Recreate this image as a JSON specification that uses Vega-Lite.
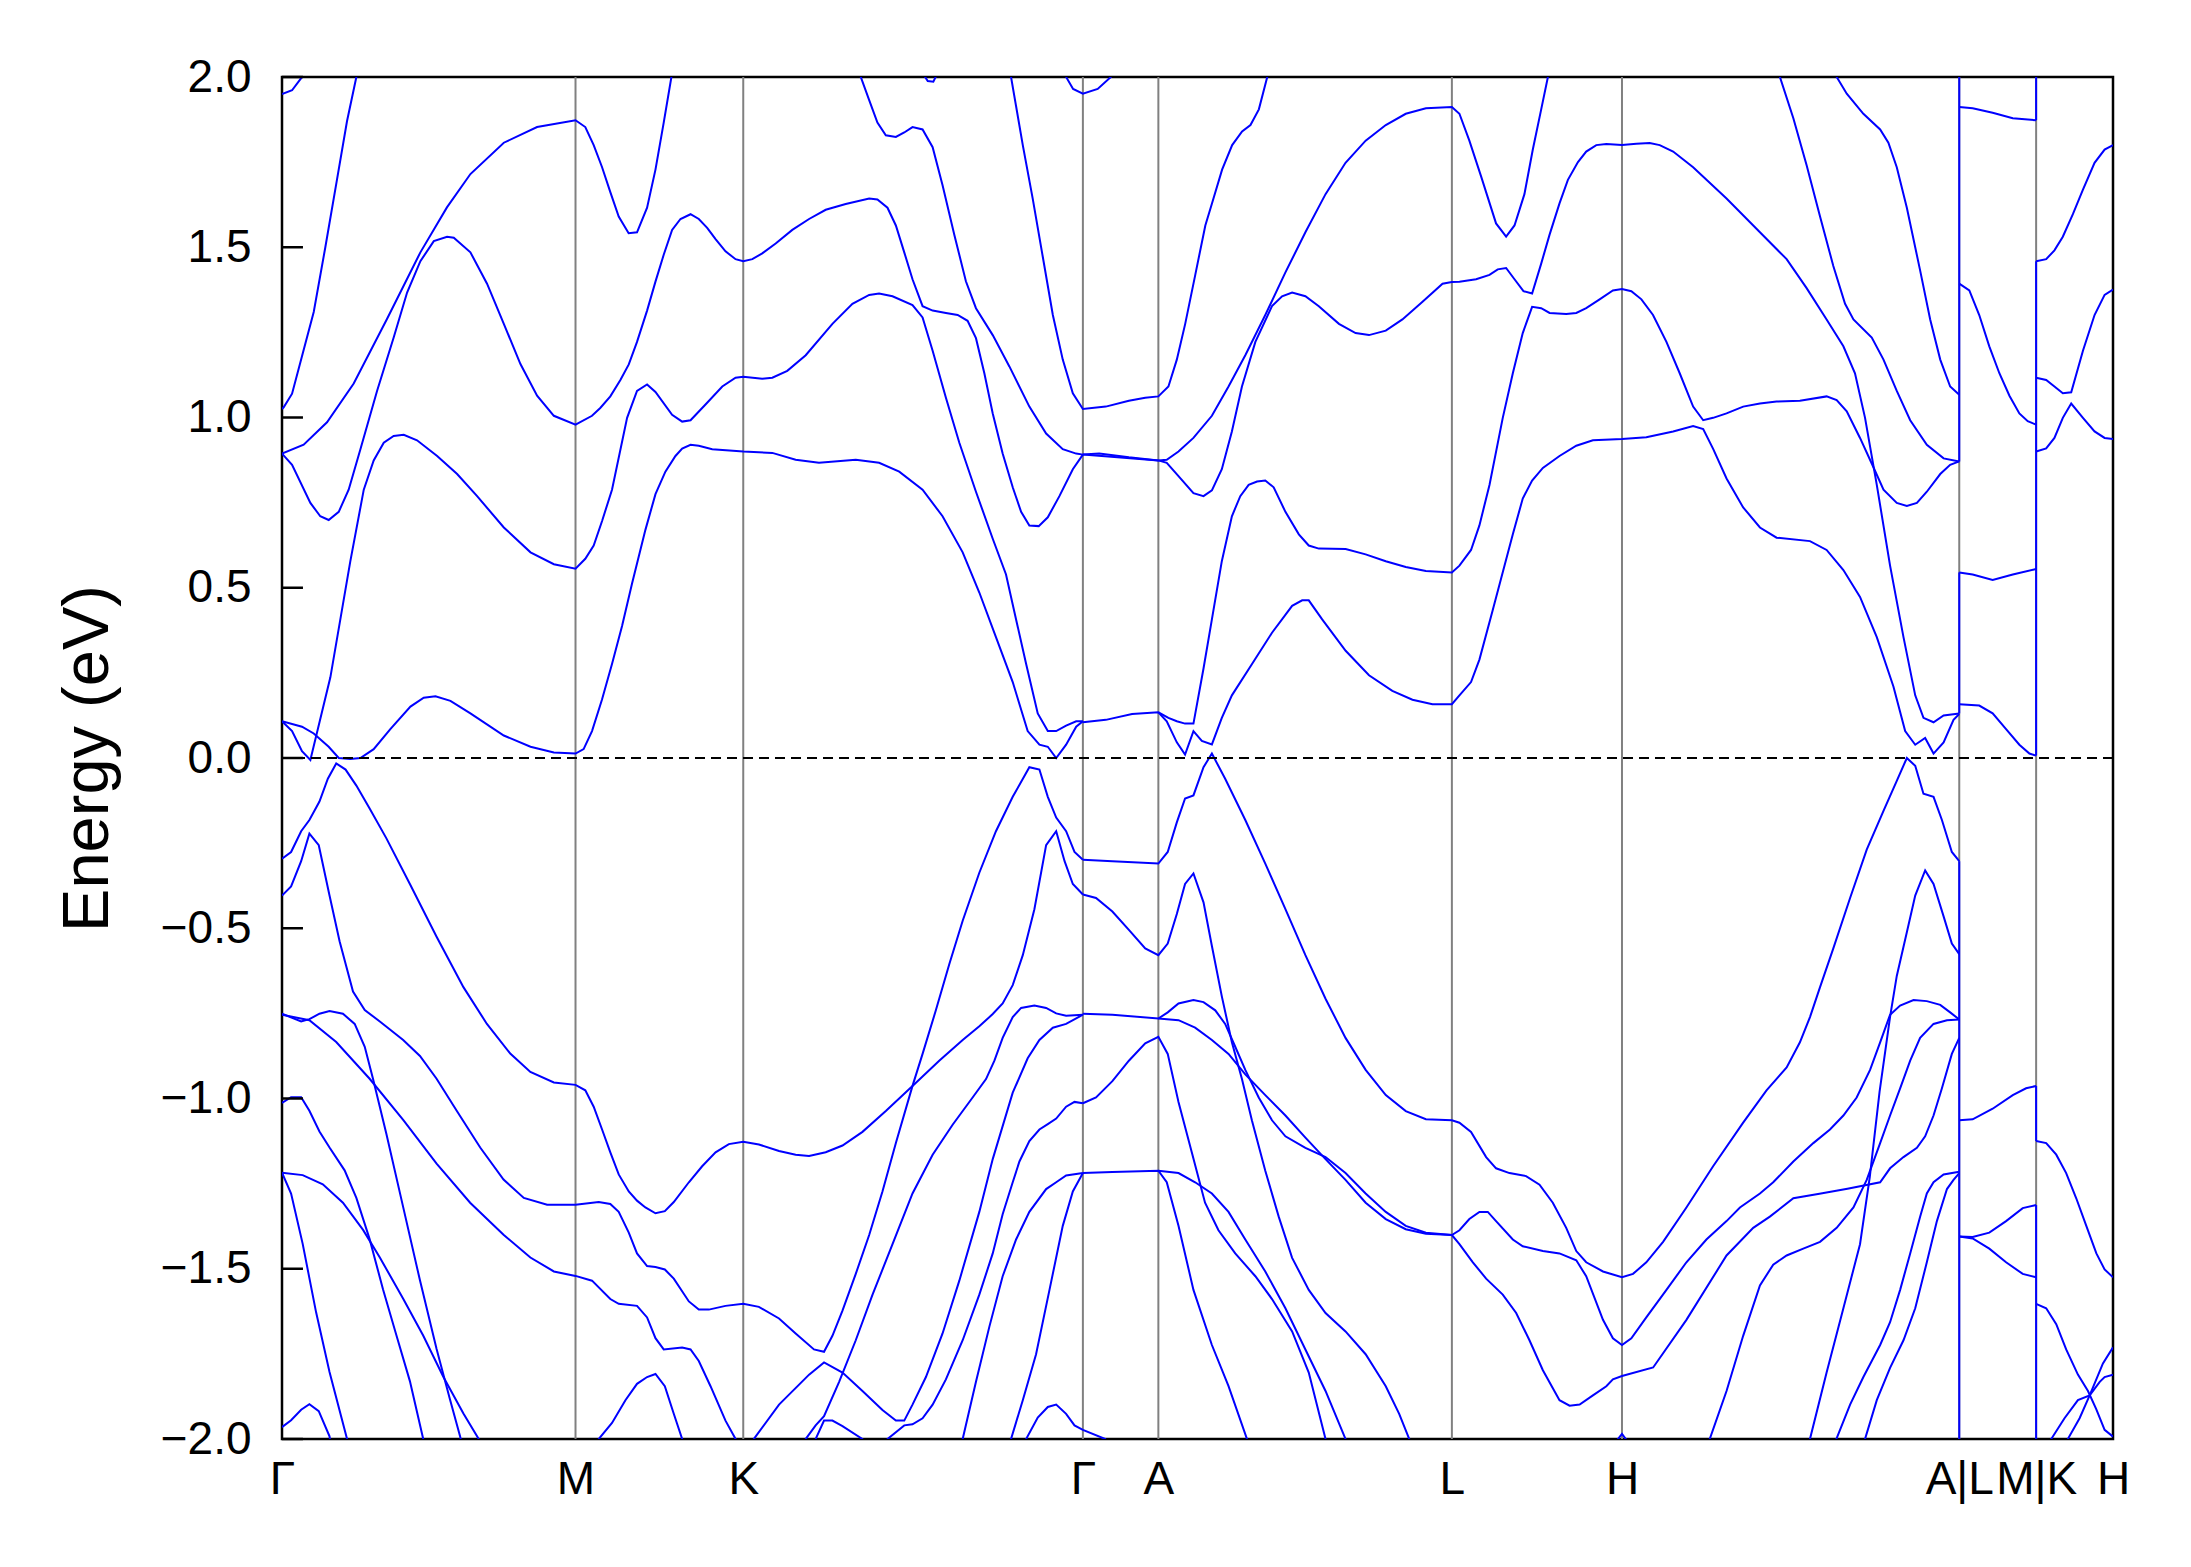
{
"$schema":"https://vega.github.io/schema/vega-lite/v6.json",
"width":1831,"height":1362,
"autosize":{"type":"none"},
"padding":{"left":282,"top":77,"right":78,"bottom":128},
"background":"white",
"config":{"view":{"stroke":"black","strokeWidth":2.5},"font":"Liberation Sans"},
"datasets":{
"sym":[{"k":210},{"k":330},{"k":573},{"k":627},{"k":837},{"k":958.7},{"k":1200},{"k":1255}],
"zero":[{"z":0}],
"yticks":[{"t":-2},{"t":-1.5},{"t":-1},{"t":-0.5},{"t":0},{"t":0.5},{"t":1},{"t":1.5},{"t":2}],
"jumps":[{"k":1200,"e1":2.0,"e2":0.871},{"k":1200,"e1":0.545,"e2":0.131},{"k":1200,"e1":-0.303,"e2":-2.0},{"k":1255,"e1":2.0,"e2":1.873},{"k":1255,"e1":1.459,"e2":0.007},{"k":1255,"e1":-0.963,"e2":-1.125},{"k":1255,"e1":-1.313,"e2":-2.0}],
"bands":[
{"b":"a","k":0,"e":1.95},{"b":"a","k":7.2,"e":1.961},{"b":"a","k":14.3,"e":2.0},{"b":"a","k":15,"e":2.02},
{"b":"b","k":0,"e":1.025},{"b":"b","k":1.2,"e":1.03},{"b":"b","k":7.2,"e":1.07},{"b":"b","k":14.3,"e":1.18},{"b":"b","k":22.7,"e":1.31},{"b":"b","k":31,"e":1.5},{"b":"b","k":39.4,"e":1.7},{"b":"b","k":46.5,"e":1.87},{"b":"b","k":53.2,"e":2.0},{"b":"b","k":54,"e":2.02},
{"b":"c","k":0,"e":0.894},{"b":"c","k":15.5,"e":0.92},{"b":"c","k":32.2,"e":0.986},{"b":"c","k":51.3,"e":1.1},{"b":"c","k":75.2,"e":1.29},{"b":"c","k":99,"e":1.485},{"b":"c","k":118,"e":1.617},{"b":"c","k":134.8,"e":1.715},{"b":"c","k":158.7,"e":1.807},{"b":"c","k":182.5,"e":1.853},{"b":"c","k":210,"e":1.873},{"b":"c","k":217,"e":1.853},{"b":"c","k":223,"e":1.8},{"b":"c","k":229,"e":1.735},{"b":"c","k":234.9,"e":1.662},{"b":"c","k":240.9,"e":1.59},{"b":"c","k":248,"e":1.541},{"b":"c","k":254,"e":1.544},{"b":"c","k":261.2,"e":1.616},{"b":"c","k":267.2,"e":1.728},{"b":"c","k":273.1,"e":1.866},{"b":"c","k":278.6,"e":2.0},{"b":"c","k":279.5,"e":2.02},
{"b":"d","k":0,"e":0.894},{"b":"d","k":7.2,"e":0.861},{"b":"d","k":20.3,"e":0.749},{"b":"d","k":27.4,"e":0.71},{"b":"d","k":33.4,"e":0.699},{"b":"d","k":40.6,"e":0.723},{"b":"d","k":47.7,"e":0.788},{"b":"d","k":56.1,"e":0.907},{"b":"d","k":68,"e":1.078},{"b":"d","k":79.9,"e":1.235},{"b":"d","k":89.5,"e":1.367},{"b":"d","k":99,"e":1.459},{"b":"d","k":108.6,"e":1.518},{"b":"d","k":118.1,"e":1.531},{"b":"d","k":122.9,"e":1.528},{"b":"d","k":134.8,"e":1.485},{"b":"d","k":146.7,"e":1.393},{"b":"d","k":158.7,"e":1.275},{"b":"d","k":170.6,"e":1.157},{"b":"d","k":182.5,"e":1.064},{"b":"d","k":194.5,"e":1.005},{"b":"d","k":210,"e":0.979},{"b":"d","k":221.8,"e":1.005},{"b":"d","k":227.7,"e":1.028},{"b":"d","k":234.9,"e":1.062},{"b":"d","k":242.1,"e":1.11},{"b":"d","k":248.1,"e":1.156},{"b":"d","k":254,"e":1.222},{"b":"d","k":261.2,"e":1.314},{"b":"d","k":267.2,"e":1.399},{"b":"d","k":273.1,"e":1.478},{"b":"d","k":279.1,"e":1.551},{"b":"d","k":285.1,"e":1.583},{"b":"d","k":292.3,"e":1.597},{"b":"d","k":298.2,"e":1.583},{"b":"d","k":304.2,"e":1.557},{"b":"d","k":310.2,"e":1.524},{"b":"d","k":317.3,"e":1.488},{"b":"d","k":324.5,"e":1.465},{"b":"d","k":330,"e":1.459},{"b":"d","k":336.5,"e":1.465},{"b":"d","k":343.6,"e":1.482},{"b":"d","k":353.2,"e":1.511},{"b":"d","k":365.1,"e":1.551},{"b":"d","k":377.1,"e":1.583},{"b":"d","k":389,"e":1.61},{"b":"d","k":403.3,"e":1.627},{"b":"d","k":420.1,"e":1.643},{"b":"d","k":426,"e":1.64},{"b":"d","k":433.2,"e":1.616},{"b":"d","k":439.2,"e":1.564},{"b":"d","k":445.2,"e":1.485},{"b":"d","k":451.1,"e":1.406},{"b":"d","k":458.3,"e":1.327},{"b":"d","k":465.5,"e":1.314},{"b":"d","k":475,"e":1.307},{"b":"d","k":483.4,"e":1.301},{"b":"d","k":490.5,"e":1.284},{"b":"d","k":496.5,"e":1.233},{"b":"d","k":502.5,"e":1.13},{"b":"d","k":508.5,"e":1.012},{"b":"d","k":515.6,"e":0.894},{"b":"d","k":522.8,"e":0.795},{"b":"d","k":528.8,"e":0.723},{"b":"d","k":534.7,"e":0.683},{"b":"d","k":541.4,"e":0.681},{"b":"d","k":547.9,"e":0.707},{"b":"d","k":556.2,"e":0.769},{"b":"d","k":565.8,"e":0.848},{"b":"d","k":573,"e":0.891},
{"b":"A","k":0,"e":0.108},{"b":"A","k":7.2,"e":0.079},{"b":"A","k":14.3,"e":0.02},{"b":"A","k":20.3,"e":-0.006},{"b":"A","k":34.6,"e":0.237},{"b":"A","k":48.9,"e":0.578},{"b":"A","k":58.5,"e":0.788},{"b":"A","k":65.6,"e":0.874},{"b":"A","k":72.8,"e":0.926},{"b":"A","k":79.9,"e":0.946},{"b":"A","k":87.1,"e":0.949},{"b":"A","k":96.6,"e":0.933},{"b":"A","k":111,"e":0.887},{"b":"A","k":125.3,"e":0.834},{"b":"A","k":139.6,"e":0.769},{"b":"A","k":158.7,"e":0.677},{"b":"A","k":177.8,"e":0.604},{"b":"A","k":194.5,"e":0.569},{"b":"A","k":210,"e":0.556},{"b":"A","k":217,"e":0.585},{"b":"A","k":223,"e":0.624},{"b":"A","k":229,"e":0.696},{"b":"A","k":236.1,"e":0.788},{"b":"A","k":246.9,"e":0.999},{"b":"A","k":254,"e":1.078},{"b":"A","k":261.2,"e":1.097},{"b":"A","k":267.2,"e":1.075},{"b":"A","k":279.1,"e":1.008},{"b":"A","k":286.3,"e":0.988},{"b":"A","k":292.3,"e":0.992},{"b":"A","k":303,"e":1.038},{"b":"A","k":315,"e":1.091},{"b":"A","k":324.5,"e":1.117},{"b":"A","k":330,"e":1.12},{"b":"A","k":343.6,"e":1.114},{"b":"A","k":350.8,"e":1.117},{"b":"A","k":361.5,"e":1.137},{"b":"A","k":374.7,"e":1.183},{"b":"A","k":393.8,"e":1.275},{"b":"A","k":408.1,"e":1.334},{"b":"A","k":420.1,"e":1.36},{"b":"A","k":427.2,"e":1.364},{"b":"A","k":436.8,"e":1.356},{"b":"A","k":451.1,"e":1.33},{"b":"A","k":458.3,"e":1.294},{"b":"A","k":465.5,"e":1.196},{"b":"A","k":475,"e":1.058},{"b":"A","k":484.6,"e":0.926},{"b":"A","k":496.5,"e":0.782},{"b":"A","k":508.5,"e":0.644},{"b":"A","k":518,"e":0.539},{"b":"A","k":525.2,"e":0.407},{"b":"A","k":532.4,"e":0.276},{"b":"A","k":540.7,"e":0.131},{"b":"A","k":547.9,"e":0.079},{"b":"A","k":553.9,"e":0.079},{"b":"A","k":561,"e":0.095},{"b":"A","k":568.2,"e":0.108},{"b":"A","k":573,"e":0.108},
{"b":"B","k":0,"e":0.108},{"b":"B","k":14.3,"e":0.092},{"b":"B","k":22.7,"e":0.072},{"b":"B","k":33.4,"e":0.033},{"b":"B","k":40.6,"e":0.0},{"b":"B","k":48.9,"e":-0.003},{"b":"B","k":56.1,"e":0.0},{"b":"B","k":65.6,"e":0.026},{"b":"B","k":77.5,"e":0.085},{"b":"B","k":91.9,"e":0.151},{"b":"B","k":101.4,"e":0.177},{"b":"B","k":109.8,"e":0.181},{"b":"B","k":120.5,"e":0.168},{"b":"B","k":134.8,"e":0.131},{"b":"B","k":158.7,"e":0.066},{"b":"B","k":177.8,"e":0.033},{"b":"B","k":194.5,"e":0.016},{"b":"B","k":210,"e":0.013},{"b":"B","k":215.8,"e":0.026},{"b":"B","k":221.8,"e":0.079},{"b":"B","k":228.9,"e":0.171},{"b":"B","k":236.1,"e":0.276},{"b":"B","k":243.3,"e":0.388},{"b":"B","k":250.4,"e":0.512},{"b":"B","k":260,"e":0.67},{"b":"B","k":267.2,"e":0.775},{"b":"B","k":274.3,"e":0.841},{"b":"B","k":281.5,"e":0.887},{"b":"B","k":286.3,"e":0.909},{"b":"B","k":292.3,"e":0.92},{"b":"B","k":298.2,"e":0.917},{"b":"B","k":307.8,"e":0.907},{"b":"B","k":330,"e":0.9},{"b":"B","k":350.8,"e":0.896},{"b":"B","k":367.5,"e":0.876},{"b":"B","k":384.2,"e":0.867},{"b":"B","k":410.5,"e":0.876},{"b":"B","k":427.2,"e":0.867},{"b":"B","k":441.6,"e":0.841},{"b":"B","k":458.3,"e":0.788},{"b":"B","k":472.6,"e":0.71},{"b":"B","k":487,"e":0.604},{"b":"B","k":498.9,"e":0.486},{"b":"B","k":510.8,"e":0.355},{"b":"B","k":522.8,"e":0.223},{"b":"B","k":533.5,"e":0.079},{"b":"B","k":541.9,"e":0.039},{"b":"B","k":547.9,"e":0.033},{"b":"B","k":553.9,"e":0.0},{"b":"B","k":561,"e":0.039},{"b":"B","k":568.2,"e":0.092},{"b":"B","k":573,"e":0.108},
{"b":"g","k":521,"e":2.02},{"b":"g","k":521.6,"e":2.0},{"b":"g","k":530,"e":1.8},{"b":"g","k":537.1,"e":1.643},{"b":"g","k":544.3,"e":1.472},{"b":"g","k":551.5,"e":1.301},{"b":"g","k":558.6,"e":1.17},{"b":"g","k":565.8,"e":1.071},{"b":"g","k":573,"e":1.025},{"b":"g","k":589.4,"e":1.032},{"b":"g","k":605.9,"e":1.049},{"b":"g","k":617.6,"e":1.058},{"b":"g","k":627,"e":1.062},{"b":"g","k":634.2,"e":1.091},{"b":"g","k":640.2,"e":1.17},{"b":"g","k":646.2,"e":1.275},{"b":"g","k":653.4,"e":1.419},{"b":"g","k":660.6,"e":1.564},{"b":"g","k":665.4,"e":1.629},{"b":"g","k":672.6,"e":1.728},{"b":"g","k":679.8,"e":1.8},{"b":"g","k":686.9,"e":1.84},{"b":"g","k":692.9,"e":1.859},{"b":"g","k":698.9,"e":1.905},{"b":"g","k":704.9,"e":2.0},{"b":"g","k":706,"e":2.02},
{"b":"h","k":413.5,"e":2.02},{"b":"h","k":414.1,"e":2.0},{"b":"h","k":420.1,"e":1.932},{"b":"h","k":426,"e":1.866},{"b":"h","k":432,"e":1.829},{"b":"h","k":439.2,"e":1.824},{"b":"h","k":445.2,"e":1.837},{"b":"h","k":451.1,"e":1.853},{"b":"h","k":458.3,"e":1.846},{"b":"h","k":465.5,"e":1.794},{"b":"h","k":472.6,"e":1.682},{"b":"h","k":481,"e":1.537},{"b":"h","k":489.3,"e":1.4},{"b":"h","k":496.5,"e":1.321},{"b":"h","k":508.5,"e":1.242},{"b":"h","k":520.4,"e":1.15},{"b":"h","k":534.7,"e":1.032},{"b":"h","k":546.7,"e":0.953},{"b":"h","k":558.6,"e":0.907},{"b":"h","k":568.2,"e":0.894},{"b":"h","k":573,"e":0.891},
{"b":"i","k":560,"e":2.02},{"b":"i","k":561,"e":2.0},{"b":"i","k":566,"e":1.965},{"b":"i","k":573,"e":1.951},{"b":"i","k":583.6,"e":1.965},{"b":"i","k":593,"e":2.0},{"b":"i","k":594,"e":2.02},
{"b":"t","k":457,"e":2.02},{"b":"t","k":462,"e":1.988},{"b":"t","k":466,"e":1.986},{"b":"t","k":470,"e":2.02},
{"b":"v1","k":0,"e":-0.296},{"b":"v1","k":6.5,"e":-0.276},{"b":"v1","k":13.7,"e":-0.215},{"b":"v1","k":19.6,"e":-0.182},{"b":"v1","k":26.8,"e":-0.128},{"b":"v1","k":32.8,"e":-0.061},{"b":"v1","k":38.8,"e":-0.016},{"b":"v1","k":45.5,"e":-0.034},{"b":"v1","k":53.2,"e":-0.081},{"b":"v1","k":62.7,"e":-0.148},{"b":"v1","k":74.7,"e":-0.236},{"b":"v1","k":91.5,"e":-0.37},{"b":"v1","k":110.6,"e":-0.525},{"b":"v1","k":129.8,"e":-0.673},{"b":"v1","k":146.6,"e":-0.781},{"b":"v1","k":163.3,"e":-0.868},{"b":"v1","k":177.7,"e":-0.922},{"b":"v1","k":194.5,"e":-0.953},{"b":"v1","k":210,"e":-0.96},{"b":"v1","k":217,"e":-0.976},{"b":"v1","k":223,"e":-1.024},{"b":"v1","k":229,"e":-1.091},{"b":"v1","k":234.9,"e":-1.158},{"b":"v1","k":240.9,"e":-1.223},{"b":"v1","k":248.1,"e":-1.273},{"b":"v1","k":254,"e":-1.3},{"b":"v1","k":260,"e":-1.32},{"b":"v1","k":267.2,"e":-1.337},{"b":"v1","k":273.9,"e":-1.331},{"b":"v1","k":280.3,"e":-1.304},{"b":"v1","k":291.1,"e":-1.246},{"b":"v1","k":300.6,"e":-1.199},{"b":"v1","k":310.2,"e":-1.158},{"b":"v1","k":319.7,"e":-1.134},{"b":"v1","k":330,"e":-1.127},{"b":"v1","k":341.2,"e":-1.135},{"b":"v1","k":355.6,"e":-1.154},{"b":"v1","k":367.5,"e":-1.165},{"b":"v1","k":377.1,"e":-1.169},{"b":"v1","k":389,"e":-1.158},{"b":"v1","k":401,"e":-1.138},{"b":"v1","k":415.3,"e":-1.098},{"b":"v1","k":432,"e":-1.037},{"b":"v1","k":451.1,"e":-0.963},{"b":"v1","k":470.2,"e":-0.889},{"b":"v1","k":487,"e":-0.828},{"b":"v1","k":498.9,"e":-0.788},{"b":"v1","k":508.5,"e":-0.752},{"b":"v1","k":515.6,"e":-0.721},{"b":"v1","k":522.8,"e":-0.667},{"b":"v1","k":530,"e":-0.579},{"b":"v1","k":538.3,"e":-0.444},{"b":"v1","k":546.7,"e":-0.256},{"b":"v1","k":553.9,"e":-0.215},{"b":"v1","k":559.9,"e":-0.303},{"b":"v1","k":565.8,"e":-0.37},{"b":"v1","k":573,"e":-0.401},
{"b":"v2","k":0,"e":-0.404},{"b":"v2","k":6.5,"e":-0.377},{"b":"v2","k":13.7,"e":-0.303},{"b":"v2","k":19.6,"e":-0.222},{"b":"v2","k":26.3,"e":-0.256},{"b":"v2","k":34,"e":-0.404},{"b":"v2","k":41.2,"e":-0.538},{"b":"v2","k":50.8,"e":-0.686},{"b":"v2","k":59.2,"e":-0.74},{"b":"v2","k":70,"e":-0.774},{"b":"v2","k":86.7,"e":-0.828},{"b":"v2","k":98.7,"e":-0.875},{"b":"v2","k":110.6,"e":-0.942},{"b":"v2","k":125,"e":-1.036},{"b":"v2","k":141.8,"e":-1.144},{"b":"v2","k":158.5,"e":-1.238},{"b":"v2","k":173,"e":-1.292},{"b":"v2","k":189.7,"e":-1.312},{"b":"v2","k":210,"e":-1.312},{"b":"v2","k":226.6,"e":-1.304},{"b":"v2","k":234.9,"e":-1.31},{"b":"v2","k":240.9,"e":-1.333},{"b":"v2","k":248.1,"e":-1.394},{"b":"v2","k":254,"e":-1.455},{"b":"v2","k":261.2,"e":-1.492},{"b":"v2","k":267.2,"e":-1.495},{"b":"v2","k":273.9,"e":-1.502},{"b":"v2","k":280.3,"e":-1.529},{"b":"v2","k":291.1,"e":-1.596},{"b":"v2","k":298.2,"e":-1.62},{"b":"v2","k":305.4,"e":-1.62},{"b":"v2","k":317.3,"e":-1.609},{"b":"v2","k":330,"e":-1.603},{"b":"v2","k":341.2,"e":-1.612},{"b":"v2","k":355.6,"e":-1.646},{"b":"v2","k":367.5,"e":-1.69},{"b":"v2","k":380.6,"e":-1.737},{"b":"v2","k":387.8,"e":-1.744},{"b":"v2","k":393.8,"e":-1.697},{"b":"v2","k":401,"e":-1.623},{"b":"v2","k":410.5,"e":-1.515},{"b":"v2","k":420.1,"e":-1.401},{"b":"v2","k":429.6,"e":-1.273},{"b":"v2","k":439.2,"e":-1.131},{"b":"v2","k":451.1,"e":-0.963},{"b":"v2","k":458.3,"e":-0.869},{"b":"v2","k":467.8,"e":-0.741},{"b":"v2","k":477.4,"e":-0.606},{"b":"v2","k":487,"e":-0.478},{"b":"v2","k":498.9,"e":-0.337},{"b":"v2","k":510.8,"e":-0.215},{"b":"v2","k":522.8,"e":-0.114},{"b":"v2","k":534.7,"e":-0.027},{"b":"v2","k":541.9,"e":-0.034},{"b":"v2","k":547.9,"e":-0.114},{"b":"v2","k":553.9,"e":-0.175},{"b":"v2","k":561,"e":-0.215},{"b":"v2","k":567,"e":-0.276},{"b":"v2","k":573,"e":-0.299},
{"b":"v3","k":0,"e":-0.751},{"b":"v3","k":13.7,"e":-0.774},{"b":"v3","k":19.6,"e":-0.767},{"b":"v3","k":26.8,"e":-0.751},{"b":"v3","k":34,"e":-0.743},{"b":"v3","k":43.6,"e":-0.751},{"b":"v3","k":52,"e":-0.781},{"b":"v3","k":59.2,"e":-0.848},{"b":"v3","k":65.1,"e":-0.942},{"b":"v3","k":74.7,"e":-1.104},{"b":"v3","k":86.7,"e":-1.319},{"b":"v3","k":98.7,"e":-1.534},{"b":"v3","k":110.6,"e":-1.736},{"b":"v3","k":120.2,"e":-1.884},{"b":"v3","k":127.4,"e":-1.992},{"b":"v3","k":129,"e":-2.02},
{"b":"v4","k":0,"e":-0.754},{"b":"v4","k":19.6,"e":-0.77},{"b":"v4","k":38.8,"e":-0.834},{"b":"v4","k":62.7,"e":-0.942},{"b":"v4","k":86.7,"e":-1.063},{"b":"v4","k":110.6,"e":-1.191},{"b":"v4","k":134.6,"e":-1.306},{"b":"v4","k":158.5,"e":-1.4},{"b":"v4","k":177.7,"e":-1.467},{"b":"v4","k":194.5,"e":-1.508},{"b":"v4","k":210,"e":-1.521},{"b":"v4","k":221.8,"e":-1.535},{"b":"v4","k":234.9,"e":-1.589},{"b":"v4","k":240.9,"e":-1.603},{"b":"v4","k":254,"e":-1.609},{"b":"v4","k":261.2,"e":-1.643},{"b":"v4","k":267.2,"e":-1.704},{"b":"v4","k":273.1,"e":-1.737},{"b":"v4","k":286.3,"e":-1.731},{"b":"v4","k":292.3,"e":-1.737},{"b":"v4","k":298.2,"e":-1.771},{"b":"v4","k":306.6,"e":-1.845},{"b":"v4","k":317.3,"e":-1.946},{"b":"v4","k":324.5,"e":-2.0},{"b":"v4","k":326,"e":-2.02},
{"b":"v5","k":0,"e":-1.013},{"b":"v5","k":6.5,"e":-0.996},{"b":"v5","k":13.7,"e":-0.996},{"b":"v5","k":19.6,"e":-1.036},{"b":"v5","k":26.8,"e":-1.097},{"b":"v5","k":34,"e":-1.144},{"b":"v5","k":44.8,"e":-1.211},{"b":"v5","k":53.2,"e":-1.292},{"b":"v5","k":62.7,"e":-1.413},{"b":"v5","k":72.3,"e":-1.561},{"b":"v5","k":81.9,"e":-1.696},{"b":"v5","k":91.5,"e":-1.83},{"b":"v5","k":101,"e":-1.999},{"b":"v5","k":102,"e":-2.02},
{"b":"v6","k":0,"e":-1.218},{"b":"v6","k":14.8,"e":-1.225},{"b":"v6","k":29.2,"e":-1.252},{"b":"v6","k":43.6,"e":-1.306},{"b":"v6","k":58,"e":-1.386},{"b":"v6","k":70,"e":-1.467},{"b":"v6","k":86.7,"e":-1.588},{"b":"v6","k":101,"e":-1.696},{"b":"v6","k":115.4,"e":-1.817},{"b":"v6","k":129.8,"e":-1.925},{"b":"v6","k":140.6,"e":-1.999},{"b":"v6","k":142,"e":-2.02},
{"b":"v7","k":0,"e":-1.218},{"b":"v7","k":6.5,"e":-1.279},{"b":"v7","k":14.8,"e":-1.427},{"b":"v7","k":24.4,"e":-1.628},{"b":"v7","k":34,"e":-1.803},{"b":"v7","k":46.5,"e":-1.999},{"b":"v7","k":47.5,"e":-2.02},
{"b":"v8","k":0,"e":-1.965},{"b":"v8","k":6.5,"e":-1.945},{"b":"v8","k":13.7,"e":-1.914},{"b":"v8","k":19.6,"e":-1.898},{"b":"v8","k":26.3,"e":-1.918},{"b":"v8","k":34,"e":-1.992},{"b":"v8","k":35,"e":-2.02},
{"b":"mb","k":225,"e":-2.02},{"b":"mb","k":226.6,"e":-2.0},{"b":"mb","k":236.1,"e":-1.953},{"b":"mb","k":245.7,"e":-1.886},{"b":"mb","k":254,"e":-1.838},{"b":"mb","k":261.2,"e":-1.818},{"b":"mb","k":267.2,"e":-1.809},{"b":"mb","k":273.9,"e":-1.845},{"b":"mb","k":280.3,"e":-1.926},{"b":"mb","k":286.3,"e":-2.0},{"b":"mb","k":287,"e":-2.02},
{"b":"kg1","k":337,"e":-2.02},{"b":"kg1","k":337.6,"e":-2.0},{"b":"kg1","k":355.6,"e":-1.899},{"b":"kg1","k":377.1,"e":-1.811},{"b":"kg1","k":387.8,"e":-1.775},{"b":"kg1","k":401,"e":-1.805},{"b":"kg1","k":415.3,"e":-1.859},{"b":"kg1","k":429.6,"e":-1.915},{"b":"kg1","k":439.2,"e":-1.946},{"b":"kg1","k":445.2,"e":-1.946},{"b":"kg1","k":451.1,"e":-1.899},{"b":"kg1","k":460.7,"e":-1.818},{"b":"kg1","k":472.6,"e":-1.69},{"b":"kg1","k":484.6,"e":-1.535},{"b":"kg1","k":498.9,"e":-1.333},{"b":"kg1","k":508.5,"e":-1.178},{"b":"kg1","k":522.8,"e":-0.983},{"b":"kg1","k":533.5,"e":-0.882},{"b":"kg1","k":541.9,"e":-0.828},{"b":"kg1","k":551.5,"e":-0.792},{"b":"kg1","k":561,"e":-0.781},{"b":"kg1","k":573,"e":-0.754},
{"b":"kg2","k":374,"e":-2.02},{"b":"kg2","k":374.7,"e":-2.0},{"b":"kg2","k":381.8,"e":-1.96},{"b":"kg2","k":387.8,"e":-1.933},{"b":"kg2","k":398.6,"e":-1.832},{"b":"kg2","k":410.5,"e":-1.71},{"b":"kg2","k":422.5,"e":-1.576},{"b":"kg2","k":436.8,"e":-1.428},{"b":"kg2","k":451.1,"e":-1.279},{"b":"kg2","k":465.5,"e":-1.165},{"b":"kg2","k":479.8,"e":-1.077},{"b":"kg2","k":494.1,"e":-0.997},{"b":"kg2","k":503.7,"e":-0.943},{"b":"kg2","k":509.7,"e":-0.889},{"b":"kg2","k":515.6,"e":-0.822},{"b":"kg2","k":522.8,"e":-0.761},{"b":"kg2","k":528.8,"e":-0.734},{"b":"kg2","k":538.3,"e":-0.727},{"b":"kg2","k":546.7,"e":-0.734},{"b":"kg2","k":553.9,"e":-0.75},{"b":"kg2","k":561,"e":-0.757},{"b":"kg2","k":573,"e":-0.754},
{"b":"kg3","k":381,"e":-2.02},{"b":"kg3","k":381.8,"e":-2.0},{"b":"kg3","k":387.8,"e":-1.946},{"b":"kg3","k":393.8,"e":-1.946},{"b":"kg3","k":401,"e":-1.962},{"b":"kg3","k":415.3,"e":-2.0},{"b":"kg3","k":416,"e":-2.02},
{"b":"kg4","k":432.5,"e":-2.02},{"b":"kg4","k":433.2,"e":-2.0},{"b":"kg4","k":445.2,"e":-1.96},{"b":"kg4","k":451.1,"e":-1.957},{"b":"kg4","k":458.3,"e":-1.939},{"b":"kg4","k":465.5,"e":-1.899},{"b":"kg4","k":475,"e":-1.825},{"b":"kg4","k":487,"e":-1.71},{"b":"kg4","k":498.9,"e":-1.576},{"b":"kg4","k":508.5,"e":-1.455},{"b":"kg4","k":515.6,"e":-1.34},{"b":"kg4","k":522.8,"e":-1.246},{"b":"kg4","k":527.6,"e":-1.185},{"b":"kg4","k":534.7,"e":-1.125},{"b":"kg4","k":541.9,"e":-1.091},{"b":"kg4","k":547.9,"e":-1.075},{"b":"kg4","k":553.9,"e":-1.059},{"b":"kg4","k":561,"e":-1.024},{"b":"kg4","k":567,"e":-1.01},{"b":"kg4","k":573,"e":-1.014},
{"b":"kg5","k":486.5,"e":-2.02},{"b":"kg5","k":487,"e":-2.0},{"b":"kg5","k":496.5,"e":-1.832},{"b":"kg5","k":506.1,"e":-1.67},{"b":"kg5","k":515.6,"e":-1.522},{"b":"kg5","k":525.2,"e":-1.414},{"b":"kg5","k":534.7,"e":-1.333},{"b":"kg5","k":546.7,"e":-1.266},{"b":"kg5","k":553.9,"e":-1.246},{"b":"kg5","k":561,"e":-1.226},{"b":"kg5","k":573,"e":-1.219},
{"b":"kg6","k":521,"e":-2.02},{"b":"kg6","k":521.6,"e":-2.0},{"b":"kg6","k":530,"e":-1.886},{"b":"kg6","k":539.5,"e":-1.751},{"b":"kg6","k":549.1,"e":-1.562},{"b":"kg6","k":558.6,"e":-1.374},{"b":"kg6","k":565.8,"e":-1.273},{"b":"kg6","k":573,"e":-1.219},
{"b":"kg7","k":532,"e":-2.02},{"b":"kg7","k":532.4,"e":-2.0},{"b":"kg7","k":540.7,"e":-1.937},{"b":"kg7","k":547.9,"e":-1.906},{"b":"kg7","k":553.9,"e":-1.899},{"b":"kg7","k":561,"e":-1.926},{"b":"kg7","k":567,"e":-1.96},{"b":"kg7","k":573,"e":-1.973},{"b":"kg7","k":589,"e":-2.0},{"b":"kg7","k":590,"e":-2.02},
{"b":"ALup","k":573,"e":0.891},{"b":"ALup","k":584.7,"e":0.894},{"b":"ALup","k":605.9,"e":0.883},{"b":"ALup","k":627,"e":0.874},{"b":"ALup","k":633,"e":0.876},{"b":"ALup","k":641.4,"e":0.9},{"b":"ALup","k":652.1,"e":0.94},{"b":"ALup","k":665.3,"e":1.005},{"b":"ALup","k":677.2,"e":1.091},{"b":"ALup","k":689.2,"e":1.183},{"b":"ALup","k":703.5,"e":1.301},{"b":"ALup","k":717.9,"e":1.426},{"b":"ALup","k":732.2,"e":1.544},{"b":"ALup","k":746.6,"e":1.656},{"b":"ALup","k":760.9,"e":1.748},{"b":"ALup","k":775.3,"e":1.813},{"b":"ALup","k":789.7,"e":1.859},{"b":"ALup","k":804,"e":1.892},{"b":"ALup","k":818.4,"e":1.908},{"b":"ALup","k":837,"e":1.912},{"b":"ALup","k":842.4,"e":1.892},{"b":"ALup","k":849.5,"e":1.813},{"b":"ALup","k":857.9,"e":1.708},{"b":"ALup","k":868.6,"e":1.57},{"b":"ALup","k":875.8,"e":1.531},{"b":"ALup","k":881.8,"e":1.564},{"b":"ALup","k":888.9,"e":1.656},{"b":"ALup","k":894.9,"e":1.787},{"b":"ALup","k":900.9,"e":1.905},{"b":"ALup","k":905.7,"e":2.0},{"b":"ALup","k":906.5,"e":2.02},
{"b":"ALlow","k":573,"e":0.891},{"b":"ALlow","k":627,"e":0.874},{"b":"ALlow","k":633,"e":0.867},{"b":"ALlow","k":641.4,"e":0.828},{"b":"ALlow","k":652.1,"e":0.778},{"b":"ALlow","k":659.3,"e":0.769},{"b":"ALlow","k":665.3,"e":0.786},{"b":"ALlow","k":672.4,"e":0.848},{"b":"ALlow","k":679.6,"e":0.959},{"b":"ALlow","k":686.8,"e":1.091},{"b":"ALlow","k":696.4,"e":1.222},{"b":"ALlow","k":708.3,"e":1.327},{"b":"ALlow","k":715.5,"e":1.356},{"b":"ALlow","k":722.7,"e":1.367},{"b":"ALlow","k":732.2,"e":1.356},{"b":"ALlow","k":741.8,"e":1.327},{"b":"ALlow","k":756.2,"e":1.275},{"b":"ALlow","k":768.1,"e":1.248},{"b":"ALlow","k":777.7,"e":1.242},{"b":"ALlow","k":789.7,"e":1.255},{"b":"ALlow","k":801.6,"e":1.288},{"b":"ALlow","k":816,"e":1.34},{"b":"ALlow","k":830.3,"e":1.393},{"b":"ALlow","k":837,"e":1.398},{"b":"ALlow","k":842.4,"e":1.399},{"b":"ALlow","k":854.3,"e":1.406},{"b":"ALlow","k":863.9,"e":1.419},{"b":"ALlow","k":869.8,"e":1.435},{"b":"ALlow","k":875.8,"e":1.439},{"b":"ALlow","k":881.8,"e":1.406},{"b":"ALlow","k":888.2,"e":1.371},{"b":"ALlow","k":894.4,"e":1.364},{"b":"ALlow","k":900.9,"e":1.452},{"b":"ALlow","k":906.9,"e":1.537},{"b":"ALlow","k":914,"e":1.629},{"b":"ALlow","k":920,"e":1.698},{"b":"ALlow","k":927.2,"e":1.75},{"b":"ALlow","k":933.1,"e":1.781},{"b":"ALlow","k":940.3,"e":1.8},{"b":"ALlow","k":947.5,"e":1.803},{"b":"ALlow","k":958.7,"e":1.8},{"b":"ALlow","k":969,"e":1.804},{"b":"ALlow","k":978.5,"e":1.806},{"b":"ALlow","k":985.7,"e":1.8},{"b":"ALlow","k":995.3,"e":1.781},{"b":"ALlow","k":1009.6,"e":1.735},{"b":"ALlow","k":1033.5,"e":1.643},{"b":"ALlow","k":1057.4,"e":1.544},{"b":"ALlow","k":1076.5,"e":1.465},{"b":"ALlow","k":1090.8,"e":1.38},{"b":"ALlow","k":1105.1,"e":1.288},{"b":"ALlow","k":1117.1,"e":1.209},{"b":"ALlow","k":1125.4,"e":1.13},{"b":"ALlow","k":1132.6,"e":0.999},{"b":"ALlow","k":1141,"e":0.802},{"b":"ALlow","k":1150.5,"e":0.565},{"b":"ALlow","k":1160.1,"e":0.355},{"b":"ALlow","k":1168.5,"e":0.184},{"b":"ALlow","k":1174.4,"e":0.118},{"b":"ALlow","k":1181.6,"e":0.105},{"b":"ALlow","k":1188.8,"e":0.125},{"b":"ALlow","k":1200,"e":0.131},
{"b":"p82","k":573,"e":0.105},{"b":"p82","k":589.4,"e":0.112},{"b":"p82","k":608.2,"e":0.129},{"b":"p82","k":627,"e":0.134},{"b":"p82","k":634.2,"e":0.118},{"b":"p82","k":640.2,"e":0.108},{"b":"p82","k":646.1,"e":0.101},{"b":"p82","k":652.1,"e":0.101},{"b":"p82","k":659.3,"e":0.263},{"b":"p82","k":665.3,"e":0.407},{"b":"p82","k":672.4,"e":0.578},{"b":"p82","k":679.6,"e":0.71},{"b":"p82","k":685.6,"e":0.769},{"b":"p82","k":691.6,"e":0.802},{"b":"p82","k":697.6,"e":0.812},{"b":"p82","k":703.5,"e":0.815},{"b":"p82","k":709.5,"e":0.795},{"b":"p82","k":717.9,"e":0.723},{"b":"p82","k":727.5,"e":0.657},{"b":"p82","k":734.6,"e":0.624},{"b":"p82","k":741.8,"e":0.615},{"b":"p82","k":761,"e":0.614},{"b":"p82","k":775.3,"e":0.598},{"b":"p82","k":789.7,"e":0.578},{"b":"p82","k":804,"e":0.561},{"b":"p82","k":818.4,"e":0.549},{"b":"p82","k":837,"e":0.545},{"b":"p82","k":842.4,"e":0.565},{"b":"p82","k":850.7,"e":0.611},{"b":"p82","k":856.7,"e":0.683},{"b":"p82","k":863.9,"e":0.802},{"b":"p82","k":873.4,"e":0.999},{"b":"p82","k":880.6,"e":1.13},{"b":"p82","k":887.7,"e":1.248},{"b":"p82","k":894.4,"e":1.325},{"b":"p82","k":900.9,"e":1.321},{"b":"p82","k":906.9,"e":1.307},{"b":"p82","k":918.8,"e":1.304},{"b":"p82","k":926,"e":1.307},{"b":"p82","k":933.1,"e":1.321},{"b":"p82","k":942.7,"e":1.347},{"b":"p82","k":952.2,"e":1.373},{"b":"p82","k":958.7,"e":1.377},{"b":"p82","k":965.4,"e":1.371},{"b":"p82","k":972.6,"e":1.347},{"b":"p82","k":980.9,"e":1.301},{"b":"p82","k":990.5,"e":1.222},{"b":"p82","k":1000,"e":1.13},{"b":"p82","k":1009.6,"e":1.032},{"b":"p82","k":1016.8,"e":0.992},{"b":"p82","k":1023.9,"e":0.999},{"b":"p82","k":1033.5,"e":1.012},{"b":"p82","k":1045.4,"e":1.032},{"b":"p82","k":1057.4,"e":1.041},{"b":"p82","k":1069.3,"e":1.047},{"b":"p82","k":1086,"e":1.049},{"b":"p82","k":1105.1,"e":1.062},{"b":"p82","k":1112.3,"e":1.051},{"b":"p82","k":1119.5,"e":1.018},{"b":"p82","k":1129,"e":0.94},{"b":"p82","k":1138.6,"e":0.854},{"b":"p82","k":1145.8,"e":0.788},{"b":"p82","k":1155.3,"e":0.749},{"b":"p82","k":1162.5,"e":0.74},{"b":"p82","k":1169.7,"e":0.749},{"b":"p82","k":1176.8,"e":0.782},{"b":"p82","k":1186.4,"e":0.834},{"b":"p82","k":1193.5,"e":0.861},{"b":"p82","k":1200,"e":0.871},
{"b":"p47","k":627,"e":0.134},{"b":"p47","k":633,"e":0.108},{"b":"p47","k":640.2,"e":0.046},{"b":"p47","k":646.1,"e":0.01},{"b":"p47","k":652.1,"e":0.079},{"b":"p47","k":658.1,"e":0.05},{"b":"p47","k":665.3,"e":0.04},{"b":"p47","k":672.4,"e":0.118},{"b":"p47","k":679.6,"e":0.184},{"b":"p47","k":694,"e":0.276},{"b":"p47","k":708.3,"e":0.368},{"b":"p47","k":722.7,"e":0.447},{"b":"p47","k":729.9,"e":0.463},{"b":"p47","k":734.6,"e":0.463},{"b":"p47","k":744.2,"e":0.407},{"b":"p47","k":761,"e":0.315},{"b":"p47","k":777.7,"e":0.243},{"b":"p47","k":794.4,"e":0.197},{"b":"p47","k":808.8,"e":0.171},{"b":"p47","k":823.1,"e":0.158},{"b":"p47","k":837,"e":0.158},{"b":"p47","k":842.4,"e":0.184},{"b":"p47","k":850.7,"e":0.223},{"b":"p47","k":856.7,"e":0.289},{"b":"p47","k":866.2,"e":0.434},{"b":"p47","k":880.6,"e":0.657},{"b":"p47","k":887.7,"e":0.762},{"b":"p47","k":894.4,"e":0.815},{"b":"p47","k":902.1,"e":0.852},{"b":"p47","k":914,"e":0.887},{"b":"p47","k":926,"e":0.917},{"b":"p47","k":937.9,"e":0.933},{"b":"p47","k":958.7,"e":0.937},{"b":"p47","k":976.1,"e":0.942},{"b":"p47","k":995.3,"e":0.959},{"b":"p47","k":1009.6,"e":0.975},{"b":"p47","k":1016.8,"e":0.966},{"b":"p47","k":1024,"e":0.907},{"b":"p47","k":1033.5,"e":0.821},{"b":"p47","k":1045.4,"e":0.736},{"b":"p47","k":1057.4,"e":0.677},{"b":"p47","k":1069.3,"e":0.647},{"b":"p47","k":1093.2,"e":0.637},{"b":"p47","k":1105.1,"e":0.611},{"b":"p47","k":1117.1,"e":0.552},{"b":"p47","k":1129,"e":0.473},{"b":"p47","k":1141,"e":0.355},{"b":"p47","k":1152.9,"e":0.21},{"b":"p47","k":1161.3,"e":0.079},{"b":"p47","k":1168.5,"e":0.039},{"b":"p47","k":1175.6,"e":0.059},{"b":"p47","k":1181.6,"e":0.013},{"b":"p47","k":1188.8,"e":0.046},{"b":"p47","k":1195.9,"e":0.112},{"b":"p47","k":1200,"e":0.129},
{"b":"L1","k":573,"e":-0.299},{"b":"L1","k":594.1,"e":-0.303},{"b":"L1","k":627,"e":-0.31},{"b":"L1","k":633.7,"e":-0.276},{"b":"L1","k":640.2,"e":-0.189},{"b":"L1","k":646.1,"e":-0.119},{"b":"L1","k":652.1,"e":-0.11},{"b":"L1","k":659.3,"e":-0.027},{"b":"L1","k":665.3,"e":0.013},{"b":"L1","k":674.8,"e":-0.061},{"b":"L1","k":689.2,"e":-0.182},{"b":"L1","k":703.5,"e":-0.31},{"b":"L1","k":717.9,"e":-0.444},{"b":"L1","k":732.2,"e":-0.579},{"b":"L1","k":746.6,"e":-0.707},{"b":"L1","k":760.9,"e":-0.822},{"b":"L1","k":775.3,"e":-0.916},{"b":"L1","k":789.7,"e":-0.99},{"b":"L1","k":804,"e":-1.037},{"b":"L1","k":818.4,"e":-1.061},{"b":"L1","k":837,"e":-1.064},{"b":"L1","k":842.4,"e":-1.071},{"b":"L1","k":850.7,"e":-1.098},{"b":"L1","k":861.5,"e":-1.172},{"b":"L1","k":868.6,"e":-1.205},{"b":"L1","k":878.2,"e":-1.219},{"b":"L1","k":890.1,"e":-1.228},{"b":"L1","k":899.7,"e":-1.253},{"b":"L1","k":909.2,"e":-1.306},{"b":"L1","k":918.8,"e":-1.38},{"b":"L1","k":926,"e":-1.448},{"b":"L1","k":933.1,"e":-1.481},{"b":"L1","k":945.1,"e":-1.508},{"b":"L1","k":958.7,"e":-1.525},{"b":"L1","k":966.6,"e":-1.515},{"b":"L1","k":976.1,"e":-1.481},{"b":"L1","k":988.1,"e":-1.421},{"b":"L1","k":1004.8,"e":-1.32},{"b":"L1","k":1023.9,"e":-1.199},{"b":"L1","k":1045.4,"e":-1.071},{"b":"L1","k":1062.1,"e":-0.976},{"b":"L1","k":1076.5,"e":-0.909},{"b":"L1","k":1086,"e":-0.835},{"b":"L1","k":1093.2,"e":-0.761},{"b":"L1","k":1100.4,"e":-0.673},{"b":"L1","k":1109.9,"e":-0.559},{"b":"L1","k":1121.9,"e":-0.411},{"b":"L1","k":1133.8,"e":-0.269},{"b":"L1","k":1145.8,"e":-0.155},{"b":"L1","k":1155.3,"e":-0.067},{"b":"L1","k":1162.5,"e":0.0},{"b":"L1","k":1168.5,"e":-0.023},{"b":"L1","k":1174.4,"e":-0.105},{"b":"L1","k":1181.6,"e":-0.114},{"b":"L1","k":1187.6,"e":-0.182},{"b":"L1","k":1194.7,"e":-0.276},{"b":"L1","k":1200,"e":-0.303},
{"b":"L2","k":573,"e":-0.401},{"b":"L2","k":582.4,"e":-0.411},{"b":"L2","k":594.1,"e":-0.451},{"b":"L2","k":605.9,"e":-0.505},{"b":"L2","k":617.6,"e":-0.559},{"b":"L2","k":627,"e":-0.579},{"b":"L2","k":633.7,"e":-0.545},{"b":"L2","k":640.2,"e":-0.458},{"b":"L2","k":646.1,"e":-0.37},{"b":"L2","k":652.1,"e":-0.339},{"b":"L2","k":659.3,"e":-0.424},{"b":"L2","k":665.3,"e":-0.552},{"b":"L2","k":672.4,"e":-0.7},{"b":"L2","k":679.6,"e":-0.835},{"b":"L2","k":686.8,"e":-0.943},{"b":"L2","k":693.9,"e":-1.064},{"b":"L2","k":703.5,"e":-1.212},{"b":"L2","k":713.1,"e":-1.347},{"b":"L2","k":722.7,"e":-1.468},{"b":"L2","k":734.6,"e":-1.562},{"b":"L2","k":746.6,"e":-1.63},{"b":"L2","k":760.9,"e":-1.684},{"b":"L2","k":775.3,"e":-1.751},{"b":"L2","k":789.7,"e":-1.845},{"b":"L2","k":799.3,"e":-1.926},{"b":"L2","k":806.5,"e":-2.0},{"b":"L2","k":807.5,"e":-2.02},
{"b":"L3","k":573,"e":-0.751},{"b":"L3","k":594.1,"e":-0.754},{"b":"L3","k":627,"e":-0.765},{"b":"L3","k":633.7,"e":-0.747},{"b":"L3","k":641.4,"e":-0.721},{"b":"L3","k":652.1,"e":-0.711},{"b":"L3","k":659.3,"e":-0.717},{"b":"L3","k":667.7,"e":-0.741},{"b":"L3","k":674.8,"e":-0.781},{"b":"L3","k":682,"e":-0.848},{"b":"L3","k":689.2,"e":-0.916},{"b":"L3","k":698.8,"e":-0.997},{"b":"L3","k":708.3,"e":-1.064},{"b":"L3","k":717.9,"e":-1.111},{"b":"L3","k":732.2,"e":-1.145},{"b":"L3","k":746.6,"e":-1.172},{"b":"L3","k":760.9,"e":-1.219},{"b":"L3","k":775.3,"e":-1.279},{"b":"L3","k":789.7,"e":-1.333},{"b":"L3","k":804,"e":-1.374},{"b":"L3","k":818.4,"e":-1.394},{"b":"L3","k":837,"e":-1.401},{"b":"L3","k":842.4,"e":-1.387},{"b":"L3","k":849.5,"e":-1.354},{"b":"L3","k":856.7,"e":-1.333},{"b":"L3","k":862.7,"e":-1.333},{"b":"L3","k":868.6,"e":-1.36},{"b":"L3","k":880.6,"e":-1.414},{"b":"L3","k":887.7,"e":-1.434},{"b":"L3","k":902.1,"e":-1.448},{"b":"L3","k":914,"e":-1.455},{"b":"L3","k":926,"e":-1.475},{"b":"L3","k":933.1,"e":-1.522},{"b":"L3","k":945.1,"e":-1.65},{"b":"L3","k":952.2,"e":-1.704},{"b":"L3","k":958.7,"e":-1.724},{"b":"L3","k":965.4,"e":-1.704},{"b":"L3","k":976.1,"e":-1.643},{"b":"L3","k":990.5,"e":-1.562},{"b":"L3","k":1004.8,"e":-1.481},{"b":"L3","k":1019.1,"e":-1.414},{"b":"L3","k":1033.5,"e":-1.36},{"b":"L3","k":1043.1,"e":-1.32},{"b":"L3","k":1057.4,"e":-1.279},{"b":"L3","k":1066.9,"e":-1.246},{"b":"L3","k":1081.3,"e":-1.185},{"b":"L3","k":1095.6,"e":-1.131},{"b":"L3","k":1107.5,"e":-1.091},{"b":"L3","k":1117.1,"e":-1.05},{"b":"L3","k":1126.6,"e":-0.997},{"b":"L3","k":1136.2,"e":-0.916},{"b":"L3","k":1143.4,"e":-0.835},{"b":"L3","k":1150.5,"e":-0.754},{"b":"L3","k":1157.7,"e":-0.727},{"b":"L3","k":1167.3,"e":-0.711},{"b":"L3","k":1176.8,"e":-0.714},{"b":"L3","k":1186.4,"e":-0.725},{"b":"L3","k":1193.5,"e":-0.747},{"b":"L3","k":1200,"e":-0.768},
{"b":"L4","k":627,"e":-0.765},{"b":"L4","k":641.4,"e":-0.77},{"b":"L4","k":653.3,"e":-0.792},{"b":"L4","k":665.3,"e":-0.828},{"b":"L4","k":677.2,"e":-0.869},{"b":"L4","k":689.2,"e":-0.929},{"b":"L4","k":703.5,"e":-0.99},{"b":"L4","k":717.9,"e":-1.05},{"b":"L4","k":732.2,"e":-1.115},{"b":"L4","k":746.6,"e":-1.178},{"b":"L4","k":760.9,"e":-1.239},{"b":"L4","k":775.3,"e":-1.306},{"b":"L4","k":789.7,"e":-1.354},{"b":"L4","k":804,"e":-1.384},{"b":"L4","k":818.4,"e":-1.397},{"b":"L4","k":837,"e":-1.401},{"b":"L4","k":842.4,"e":-1.428},{"b":"L4","k":852,"e":-1.481},{"b":"L4","k":861.5,"e":-1.529},{"b":"L4","k":873.4,"e":-1.576},{"b":"L4","k":883,"e":-1.63},{"b":"L4","k":892.5,"e":-1.71},{"b":"L4","k":902.1,"e":-1.798},{"b":"L4","k":914,"e":-1.886},{"b":"L4","k":921.2,"e":-1.902},{"b":"L4","k":928.4,"e":-1.899},{"b":"L4","k":937.9,"e":-1.872},{"b":"L4","k":947.5,"e":-1.845},{"b":"L4","k":952.2,"e":-1.825},{"b":"L4","k":958.7,"e":-1.815},{"b":"L4","k":981,"e":-1.79},{"b":"L4","k":1004.8,"e":-1.65},{"b":"L4","k":1033.5,"e":-1.461},{"b":"L4","k":1052.6,"e":-1.38},{"b":"L4","k":1064.5,"e":-1.347},{"b":"L4","k":1081.3,"e":-1.293},{"b":"L4","k":1100,"e":-1.28},{"b":"L4","k":1120,"e":-1.265},{"b":"L4","k":1143.4,"e":-1.246},{"b":"L4","k":1150.5,"e":-1.205},{"b":"L4","k":1160.1,"e":-1.172},{"b":"L4","k":1169.7,"e":-1.145},{"b":"L4","k":1175.6,"e":-1.111},{"b":"L4","k":1181.6,"e":-1.05},{"b":"L4","k":1187.6,"e":-0.97},{"b":"L4","k":1194.7,"e":-0.869},{"b":"L4","k":1200,"e":-0.822},
{"b":"L5","k":573,"e":-1.014},{"b":"L5","k":582.4,"e":-0.997},{"b":"L5","k":594.1,"e":-0.949},{"b":"L5","k":605.9,"e":-0.889},{"b":"L5","k":617.6,"e":-0.838},{"b":"L5","k":627,"e":-0.819},{"b":"L5","k":633.7,"e":-0.869},{"b":"L5","k":641.4,"e":-1.01},{"b":"L5","k":650.9,"e":-1.158},{"b":"L5","k":660.4,"e":-1.306},{"b":"L5","k":670,"e":-1.387},{"b":"L5","k":682,"e":-1.455},{"b":"L5","k":696.4,"e":-1.522},{"b":"L5","k":708.3,"e":-1.589},{"b":"L5","k":722.7,"e":-1.684},{"b":"L5","k":734.6,"e":-1.805},{"b":"L5","k":746.6,"e":-2.0},{"b":"L5","k":747.5,"e":-2.02},
{"b":"L6","k":573,"e":-1.219},{"b":"L6","k":594.1,"e":-1.216},{"b":"L6","k":627,"e":-1.212},{"b":"L6","k":633,"e":-1.246},{"b":"L6","k":641.4,"e":-1.374},{"b":"L6","k":652.1,"e":-1.562},{"b":"L6","k":665.3,"e":-1.724},{"b":"L6","k":677.2,"e":-1.845},{"b":"L6","k":690.4,"e":-2.0},{"b":"L6","k":691.5,"e":-2.02},
{"b":"L7","k":627,"e":-1.212},{"b":"L7","k":641.4,"e":-1.219},{"b":"L7","k":653.3,"e":-1.246},{"b":"L7","k":665.3,"e":-1.279},{"b":"L7","k":677.2,"e":-1.333},{"b":"L7","k":689.2,"e":-1.414},{"b":"L7","k":703.5,"e":-1.508},{"b":"L7","k":717.9,"e":-1.616},{"b":"L7","k":732.2,"e":-1.737},{"b":"L7","k":746.6,"e":-1.859},{"b":"L7","k":760.9,"e":-2.0},{"b":"L7","k":762,"e":-2.02},
{"b":"Ht","k":952,"e":-2.02},{"b":"Ht","k":958.7,"e":-1.985},{"b":"Ht","k":965,"e":-2.02},
{"b":"b750","k":1021,"e":-2.02},{"b":"b750","k":1021.5,"e":-2.0},{"b":"b750","k":1033.5,"e":-1.859},{"b":"b750","k":1045.4,"e":-1.697},{"b":"b750","k":1057.4,"e":-1.549},{"b":"b750","k":1066.9,"e":-1.488},{"b":"b750","k":1076.5,"e":-1.461},{"b":"b750","k":1088.4,"e":-1.441},{"b":"b750","k":1100.4,"e":-1.421},{"b":"b750","k":1112.3,"e":-1.38},{"b":"b750","k":1124.3,"e":-1.32},{"b":"b750","k":1133.8,"e":-1.239},{"b":"b750","k":1143.4,"e":-1.131},{"b":"b750","k":1150.5,"e":-1.05},{"b":"b750","k":1157.7,"e":-0.97},{"b":"b750","k":1164.9,"e":-0.889},{"b":"b750","k":1172,"e":-0.822},{"b":"b750","k":1181.6,"e":-0.781},{"b":"b750","k":1191.2,"e":-0.77},{"b":"b750","k":1200,"e":-0.768},
{"b":"b1050","k":1092.5,"e":-2.02},{"b":"b1050","k":1093.2,"e":-2.0},{"b":"b1050","k":1105.1,"e":-1.805},{"b":"b1050","k":1117.1,"e":-1.616},{"b":"b1050","k":1129,"e":-1.428},{"b":"b1050","k":1136,"e":-1.23},{"b":"b1050","k":1143,"e":-0.98},{"b":"b1050","k":1150.5,"e":-0.76},{"b":"b1050","k":1155.3,"e":-0.64},{"b":"b1050","k":1162.5,"e":-0.512},{"b":"b1050","k":1168.5,"e":-0.404},{"b":"b1050","k":1175.6,"e":-0.33},{"b":"b1050","k":1181.6,"e":-0.37},{"b":"b1050","k":1188.8,"e":-0.465},{"b":"b1050","k":1194.7,"e":-0.545},{"b":"b1050","k":1200,"e":-0.576},
{"b":"b1135","k":1111.5,"e":-2.02},{"b":"b1135","k":1112.1,"e":-2.0},{"b":"b1135","k":1121.9,"e":-1.899},{"b":"b1135","k":1131.4,"e":-1.818},{"b":"b1135","k":1143.4,"e":-1.724},{"b":"b1135","k":1150.5,"e":-1.657},{"b":"b1135","k":1157.7,"e":-1.562},{"b":"b1135","k":1164.9,"e":-1.455},{"b":"b1135","k":1172,"e":-1.347},{"b":"b1135","k":1176.8,"e":-1.279},{"b":"b1135","k":1181.6,"e":-1.246},{"b":"b1135","k":1188.8,"e":-1.223},{"b":"b1135","k":1200,"e":-1.215},
{"b":"b1215","k":1132,"e":-2.02},{"b":"b1215","k":1132.6,"e":-2.0},{"b":"b1215","k":1141,"e":-1.886},{"b":"b1215","k":1150.5,"e":-1.791},{"b":"b1215","k":1160.1,"e":-1.71},{"b":"b1215","k":1168.5,"e":-1.616},{"b":"b1215","k":1176.8,"e":-1.481},{"b":"b1215","k":1184,"e":-1.36},{"b":"b1215","k":1191.2,"e":-1.266},{"b":"b1215","k":1195.9,"e":-1.239},{"b":"b1215","k":1200,"e":-1.219},
{"b":"T1","k":1071,"e":2.02},{"b":"T1","k":1071.7,"e":2.0},{"b":"T1","k":1081.3,"e":1.879},{"b":"T1","k":1090.8,"e":1.741},{"b":"T1","k":1100.4,"e":1.59},{"b":"T1","k":1109.9,"e":1.445},{"b":"T1","k":1118.3,"e":1.334},{"b":"T1","k":1124.3,"e":1.288},{"b":"T1","k":1137.4,"e":1.235},{"b":"T1","k":1145.8,"e":1.17},{"b":"T1","k":1155.3,"e":1.078},{"b":"T1","k":1164.9,"e":0.992},{"b":"T1","k":1176.8,"e":0.92},{"b":"T1","k":1188.8,"e":0.88},{"b":"T1","k":1200,"e":0.871},
{"b":"T2","k":1111.5,"e":2.02},{"b":"T2","k":1112.3,"e":2.0},{"b":"T2","k":1119.5,"e":1.951},{"b":"T2","k":1131.4,"e":1.892},{"b":"T2","k":1143.4,"e":1.846},{"b":"T2","k":1149.3,"e":1.807},{"b":"T2","k":1155.3,"e":1.735},{"b":"T2","k":1162.5,"e":1.616},{"b":"T2","k":1172,"e":1.432},{"b":"T2","k":1179.2,"e":1.288},{"b":"T2","k":1186.4,"e":1.17},{"b":"T2","k":1193.5,"e":1.091},{"b":"T2","k":1200,"e":1.067},
{"b":"LM1","k":1200,"e":1.912},{"b":"LM1","k":1209.6,"e":1.908},{"b":"LM1","k":1223.9,"e":1.895},{"b":"LM1","k":1238.3,"e":1.879},{"b":"LM1","k":1255,"e":1.873},
{"b":"LM2","k":1200,"e":1.393},{"b":"LM2","k":1207.2,"e":1.373},{"b":"LM2","k":1214.3,"e":1.301},{"b":"LM2","k":1221.5,"e":1.209},{"b":"LM2","k":1228.7,"e":1.13},{"b":"LM2","k":1235.9,"e":1.064},{"b":"LM2","k":1243,"e":1.012},{"b":"LM2","k":1249,"e":0.989},{"b":"LM2","k":1255,"e":0.979},
{"b":"LM3","k":1200,"e":0.545},{"b":"LM3","k":1209.6,"e":0.539},{"b":"LM3","k":1223.9,"e":0.523},{"b":"LM3","k":1238.3,"e":0.539},{"b":"LM3","k":1255,"e":0.555},
{"b":"LM4","k":1200,"e":0.158},{"b":"LM4","k":1214.3,"e":0.154},{"b":"LM4","k":1223.9,"e":0.131},{"b":"LM4","k":1233.5,"e":0.085},{"b":"LM4","k":1243,"e":0.039},{"b":"LM4","k":1250.2,"e":0.013},{"b":"LM4","k":1255,"e":0.007},
{"b":"LM5","k":1200,"e":-1.064},{"b":"LM5","k":1209.6,"e":-1.061},{"b":"LM5","k":1223.9,"e":-1.03},{"b":"LM5","k":1238.3,"e":-0.99},{"b":"LM5","k":1247.8,"e":-0.97},{"b":"LM5","k":1255,"e":-0.963},
{"b":"LM6","k":1200,"e":-1.405},{"b":"LM6","k":1209.6,"e":-1.407},{"b":"LM6","k":1221.5,"e":-1.394},{"b":"LM6","k":1233.5,"e":-1.36},{"b":"LM6","k":1245.4,"e":-1.322},{"b":"LM6","k":1255,"e":-1.313},
{"b":"LM7","k":1200,"e":-1.405},{"b":"LM7","k":1209.6,"e":-1.411},{"b":"LM7","k":1221.5,"e":-1.441},{"b":"LM7","k":1233.5,"e":-1.481},{"b":"LM7","k":1245.4,"e":-1.515},{"b":"LM7","k":1255,"e":-1.525},
{"b":"KH1","k":1255,"e":1.459},{"b":"KH1","k":1262.2,"e":1.465},{"b":"KH1","k":1268.1,"e":1.491},{"b":"KH1","k":1274.1,"e":1.531},{"b":"KH1","k":1281.3,"e":1.597},{"b":"KH1","k":1288.5,"e":1.669},{"b":"KH1","k":1296.8,"e":1.748},{"b":"KH1","k":1304,"e":1.787},{"b":"KH1","k":1310,"e":1.8},
{"b":"KH2","k":1255,"e":1.117},{"b":"KH2","k":1262.2,"e":1.11},{"b":"KH2","k":1268.1,"e":1.091},{"b":"KH2","k":1274.1,"e":1.071},{"b":"KH2","k":1280.1,"e":1.074},{"b":"KH2","k":1288.5,"e":1.196},{"b":"KH2","k":1296.8,"e":1.301},{"b":"KH2","k":1304,"e":1.36},{"b":"KH2","k":1310,"e":1.376},
{"b":"KH3","k":1255,"e":0.9},{"b":"KH3","k":1262.2,"e":0.909},{"b":"KH3","k":1268.1,"e":0.94},{"b":"KH3","k":1274.1,"e":0.999},{"b":"KH3","k":1280.1,"e":1.041},{"b":"KH3","k":1288.5,"e":0.999},{"b":"KH3","k":1296.8,"e":0.959},{"b":"KH3","k":1304,"e":0.94},{"b":"KH3","k":1310,"e":0.937},
{"b":"KH4","k":1255,"e":-1.125},{"b":"KH4","k":1262.2,"e":-1.131},{"b":"KH4","k":1269.4,"e":-1.165},{"b":"KH4","k":1276.5,"e":-1.219},{"b":"KH4","k":1283.7,"e":-1.293},{"b":"KH4","k":1290.9,"e":-1.374},{"b":"KH4","k":1298.1,"e":-1.455},{"b":"KH4","k":1304,"e":-1.502},{"b":"KH4","k":1310,"e":-1.525},
{"b":"KH5","k":1255,"e":-1.603},{"b":"KH5","k":1262.2,"e":-1.616},{"b":"KH5","k":1269.4,"e":-1.663},{"b":"KH5","k":1276.5,"e":-1.737},{"b":"KH5","k":1284.9,"e":-1.811},{"b":"KH5","k":1292.1,"e":-1.859},{"b":"KH5","k":1298,"e":-1.912},{"b":"KH5","k":1304,"e":-1.973},{"b":"KH5","k":1310,"e":-1.993},
{"b":"KH6","k":1265,"e":-2.02},{"b":"KH6","k":1265.8,"e":-2.0},{"b":"KH6","k":1275.3,"e":-1.939},{"b":"KH6","k":1284.9,"e":-1.886},{"b":"KH6","k":1293.3,"e":-1.872},{"b":"KH6","k":1300.5,"e":-1.832},{"b":"KH6","k":1304,"e":-1.818},{"b":"KH6","k":1310,"e":-1.811},
{"b":"KH7","k":1277,"e":-2.02},{"b":"KH7","k":1277.7,"e":-2.0},{"b":"KH7","k":1286.1,"e":-1.939},{"b":"KH7","k":1293.3,"e":-1.872},{"b":"KH7","k":1302.8,"e":-1.778},{"b":"KH7","k":1310,"e":-1.731}
]},
"layer":[
{"data":{"name":"sym"},"mark":{"type":"rule","color":"#808080","strokeWidth":2},
 "encoding":{"x":{"field":"k","type":"quantitative","scale":{"domain":[0,1310],"nice":false,"zero":false},
  "axis":{"values":[0,210,330,573,627,837,958.7,1200,1255,1310],"labelExpr":"datum.value==0?'Γ':datum.value==210?'M':datum.value==330?'K':datum.value==573?'Γ':datum.value==627?'A':datum.value==837?'L':datum.value==958.7?'H':datum.value==1200?'A|L':datum.value==1255?'M|K':'H'","title":null,"grid":false,"domain":false,"ticks":false,"labelPadding":18,"labelFontSize":46,"labelFont":"Liberation Sans","labelColor":"black","labelFlush":false,"labelOverlap":false,"labelAngle":0}}}},
{"data":{"name":"bands"},"mark":{"type":"line","color":"#0000ff","strokeWidth":2,"clip":true},
 "encoding":{"x":{"field":"k","type":"quantitative","scale":{"domain":[0,1310],"nice":false,"zero":false}},
  "y":{"field":"e","type":"quantitative","scale":{"domain":[-2,2],"nice":false,"zero":false},
   "axis":{"values":[-2,-1.5,-1,-0.5,0,0.5,1,1.5,2],"format":".1f","title":"Energy (eV)","grid":false,"domain":false,"ticks":false,"labelPadding":31,"labelFontSize":46,"labelFont":"Liberation Sans","labelColor":"black","titleFontSize":65,"titleFont":"Liberation Sans","titleFontWeight":"normal","titleColor":"black","titleX":-195,"titleY":681,"titleAngle":-90,"titleAlign":"center","titleBaseline":"middle","labelFlush":false,"labelOverlap":false}},
  "detail":{"field":"b"}}},
{"data":{"name":"jumps"},"mark":{"type":"rule","color":"#0000ff","strokeWidth":2,"clip":true},
 "encoding":{"x":{"field":"k","type":"quantitative","scale":{"domain":[0,1310],"nice":false,"zero":false}},
  "y":{"field":"e1","type":"quantitative","scale":{"domain":[-2,2],"nice":false,"zero":false}},"y2":{"field":"e2"}}},
{"data":{"name":"zero"},"mark":{"type":"rule","color":"black","strokeWidth":2,"strokeDash":[10,6]},
 "encoding":{"y":{"field":"z","type":"quantitative","scale":{"domain":[-2,2],"nice":false,"zero":false}}}},
{"data":{"name":"yticks"},"mark":{"type":"rule","color":"black","strokeWidth":2.5},
 "encoding":{"y":{"field":"t","type":"quantitative","scale":{"domain":[-2,2],"nice":false,"zero":false}},
  "x":{"datum":0,"type":"quantitative","scale":{"domain":[0,1310],"nice":false,"zero":false}},"x2":{"datum":15}}}
]
}
